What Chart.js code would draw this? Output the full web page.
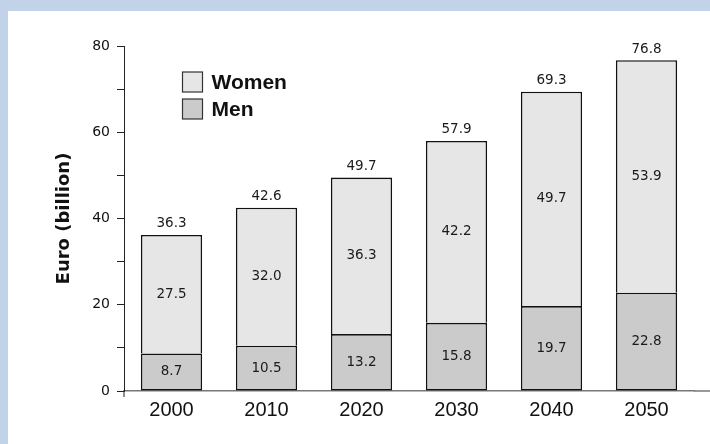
<!DOCTYPE html>
<html><head><meta charset="utf-8">
<script src="https://cdn.jsdelivr.net/npm/chart.js@4"></script>
<style>
html,body{margin:0;padding:0;background:#c2d3e9;width:710px;height:444px;overflow:hidden}
#wrap{position:absolute;left:8px;top:11px;width:702px;height:433px;background:#fff}
canvas{display:block}
</style></head><body>
<div id="wrap"><canvas id="c" width="702" height="433"></canvas></div>
<script>
const years = ['2000', '2010', '2020', '2030', '2040', '2050'];
const men = [8.7, 10.5, 13.2, 15.8, 19.7, 22.8];
const women = [27.5, 32.0, 36.3, 42.2, 49.7, 53.9];
const totals = [36.3, 42.6, 49.7, 57.9, 69.3, 76.8];
const yTickLabels = [0, 20, 40, 60, 80];

const labelPlugin = {
  id: 'barLabels',
  afterDatasetsDraw(chart) {
    const ctx = chart.ctx;
    ctx.save();
    ctx.font = '13.5px "DejaVu Sans"';
    ctx.fillStyle = '#1a1a1a';
    ctx.textAlign = 'center';
    ctx.textBaseline = 'middle';
    chart.data.datasets.forEach((ds, di) => {
      const meta = chart.getDatasetMeta(di);
      meta.data.forEach((bar, i) => {
        const p = bar.getProps(['x', 'y', 'base'], true);
        ctx.fillText(ds.data[i].toFixed(1), p.x, (p.y + p.base) / 2);
      });
    });
    const topMeta = chart.getDatasetMeta(chart.data.datasets.length - 1);
    topMeta.data.forEach((bar, i) => {
      const p = bar.getProps(['x', 'y'], true);
      ctx.fillText(totals[i].toFixed(1), p.x, p.y - 11);
    });
    ctx.restore();
  }
};

const decoPlugin = {
  id: 'deco',
  afterDraw(chart) {
    const {ctx, chartArea} = chart;
    ctx.save();
    ctx.strokeStyle = '#777';
    ctx.lineWidth = 1.5;
    ctx.beginPath();
    ctx.moveTo(chartArea.right, chartArea.bottom);
    ctx.lineTo(chart.width, chartArea.bottom);
    ctx.stroke();
    ctx.strokeStyle = '#222';
    ctx.lineWidth = 1;
    ctx.beginPath();
    ctx.moveTo(chartArea.left, chartArea.bottom);
    ctx.lineTo(chartArea.left, chartArea.bottom + 6);
    ctx.stroke();
    const x0 = chartArea.left + 58.5, y0 = chartArea.top + 26;
    const dss = chart.data.datasets.slice().reverse();
    ctx.font = 'bold 21px "Liberation Sans"';
    ctx.textAlign = 'left';
    ctx.textBaseline = 'middle';
    dss.forEach((ds, k) => {
      const y = y0 + k * 27;
      ctx.fillStyle = ds.backgroundColor;
      ctx.fillRect(x0, y, 20, 20);
      ctx.strokeStyle = '#333';
      ctx.lineWidth = 1.2;
      ctx.strokeRect(x0, y, 20, 20);
      ctx.fillStyle = '#111';
      ctx.fillText(ds.label, x0 + 29, y + 11);
    });
    ctx.restore();
  }
};

new Chart(document.getElementById('c'), {
  type: 'bar',
  data: {
    labels: years,
    datasets: [
      { label: 'Men', data: men, backgroundColor: '#cbcbcb', borderColor: '#111', borderWidth: 1.6, borderSkipped: false },
      { label: 'Women', data: women, backgroundColor: '#e6e6e6', borderColor: '#111', borderWidth: 1.6, borderSkipped: 'start' }
    ]
  },
  options: {
    responsive: false,
    animation: false,
    layout: { padding: { top: 35, right: 16, bottom: 0, left: 0 } },
    datasets: { bar: { barPercentage: 0.645, categoryPercentage: 1 } },
    plugins: { legend: { display: false }, tooltip: { enabled: false } },
    scales: {
      x: {
        stacked: true,
        grid: { display: true, drawOnChartArea: false, drawTicks: false },
        border: { display: true, color: '#777', width: 1.5 },
        ticks: { padding: 7, color: '#111', font: { family: 'Liberation Sans', size: 20 } },
        afterFit(s) { s.height = 53; }
      },
      y: {
        stacked: true,
        min: 0, max: 80,
        ticks: {
          stepSize: 10, padding: 7, color: '#111',
          font: { family: 'DejaVu Sans', size: 14 },
          callback: (v) => yTickLabels.includes(v) ? String(v) : ''
        },
        grid: { drawOnChartArea: false, drawTicks: true, tickLength: 7, color: '#222', lineWidth: 1 },
        border: { display: true, color: '#222', width: 1 },
        title: {
          display: true, text: 'Euro (billion)', color: '#111',
          font: { family: 'DejaVu Sans', size: 18, weight: 'bold' },
          padding: { top: 46, bottom: 0 }
        },
        afterFit(s) { s.width = 116; }
      }
    }
  },
  plugins: [labelPlugin, decoPlugin]
});
</script>
</body></html>
